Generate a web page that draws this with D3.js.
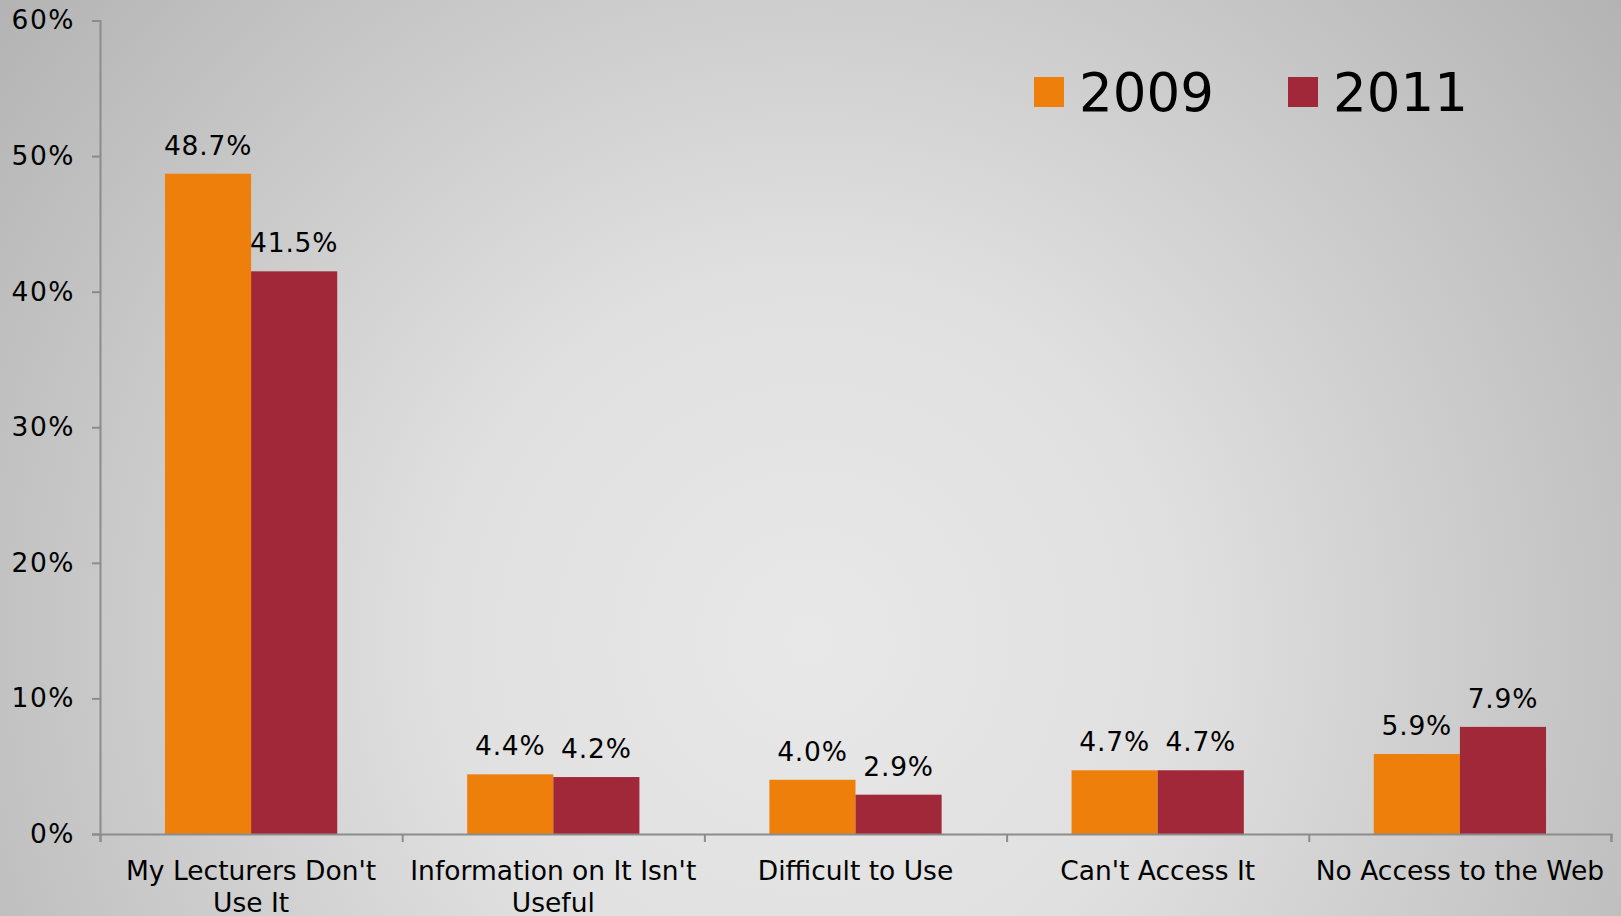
<!DOCTYPE html>
<html><head><meta charset="utf-8">
<script src="https://cdn.jsdelivr.net/npm/d3@7"></script>
<style>html,body{margin:0;padding:0;overflow:hidden;background:#ddd}svg{display:block}</style>
</head><body>
<script>
const categories = [["My Lecturers Don't","Use It"],["Information on It Isn't","Useful"],["Difficult to Use"],["Can't Access It"],["No Access to the Web"]];
const seriesNames = ["2009","2011"];
const values2009 = [48.7, 4.4, 4.0, 4.7, 5.9];
const values2011 = [41.5, 4.2, 2.9, 4.7, 7.9];
const yTicks = [0,10,20,30,40,50,60];
const colors = ["#EF7F0B","#A12838"];

const W = 1621, H = 916;
const m = {left:100, right:10, top:20.5, bottom:82};
const svg = d3.select("body").append("svg").attr("width",W).attr("height",H);
const defs = svg.append("defs");
const g0 = defs.append("radialGradient").attr("id","bg").attr("gradientUnits","userSpaceOnUse")
  .attr("cx",810).attr("cy",640).attr("r",1050);
g0.append("stop").attr("offset","0").attr("stop-color","#e8e8e8");
g0.append("stop").attr("offset","0.35").attr("stop-color","#e0e0e0");
g0.append("stop").attr("offset","1").attr("stop-color","#b2b2b2");
svg.append("rect").attr("width",W).attr("height",H).attr("fill","url(#bg)");

const font = "'DejaVu Sans', Verdana, sans-serif";
const x0 = d3.scaleBand().domain(d3.range(categories.length)).range([m.left, W-m.right]).paddingInner(0.43).paddingOuter(0.215);
const x1 = d3.scaleBand().domain([0,1]).range([0, x0.bandwidth()]);
const y = d3.scaleLinear().domain([0,60]).range([H-m.bottom, m.top]);

// y axis
const ya = svg.append("g").attr("transform",`translate(${m.left},0)`)
  .call(d3.axisLeft(y).tickValues(yTicks).tickFormat(d=>d+"%").tickSize(8).tickPadding(17));
ya.select(".domain").attr("stroke","#8c8c8c").attr("stroke-width",2);
ya.selectAll(".tick line").attr("stroke","#8c8c8c").attr("stroke-width",2);
ya.selectAll("text").attr("font-family",font).attr("font-size",26.5).attr("letter-spacing",1.5).attr("fill","#000");

// bars
const data = categories.map((c,i)=>[values2009[i], values2011[i]]);
const groups = svg.append("g").selectAll("g").data(data).join("g")
  .attr("transform",(d,i)=>`translate(${x0(i)},0)`);
groups.selectAll("rect").data(d=>d).join("rect")
  .attr("x",(d,j)=>x1(j)).attr("width",x1.bandwidth())
  .attr("y",d=>y(d)).attr("height",d=>y(0)-y(d))
  .attr("fill",(d,j)=>colors[j]);
groups.selectAll("text").data(d=>d).join("text")
  .attr("x",(d,j)=>x1(j)+x1.bandwidth()/2).attr("y",d=>y(d)-19)
  .attr("text-anchor","middle").attr("font-family",font).attr("font-size",26.5).attr("letter-spacing",0.8).attr("fill","#000")
  .text(d=>d.toFixed(1)+"%");

// x axis
const xb = d3.scaleLinear().domain([0,categories.length]).range([m.left, W-m.right]);
const xa = svg.append("g").attr("transform",`translate(0,${y(0)})`)
  .call(d3.axisBottom(xb).tickValues(d3.range(categories.length+1)).tickFormat("").tickSize(8));
xa.select(".domain").attr("stroke","#8c8c8c").attr("stroke-width",2);
xa.selectAll(".tick line").attr("stroke","#8c8c8c").attr("stroke-width",2);
const cl = svg.append("g").selectAll("text").data(categories).join("text")
  .attr("x",(d,i)=>x0(i)+x0.bandwidth()/2).attr("y",y(0)+46)
  .attr("text-anchor","middle").attr("font-family",font).attr("font-size",26.5).attr("fill","#000");
cl.selectAll("tspan").data(d=>d).join("tspan")
  .attr("x",function(){return d3.select(this.parentNode).attr("x");})
  .attr("dy",(d,k)=>k===0?0:31.5).text(d=>d);

// legend
const legX = [1034, 1288];
const leg = svg.append("g").selectAll("g").data(seriesNames).join("g")
  .attr("transform",(d,i)=>`translate(${legX[i]},77)`);
leg.append("rect").attr("width",30).attr("height",30).attr("fill",(d,i)=>colors[i]);
leg.append("text").attr("x",45).attr("y",34).attr("font-family",font).attr("font-size",53).attr("fill","#000").text(d=>d);
</script>
</body></html>
